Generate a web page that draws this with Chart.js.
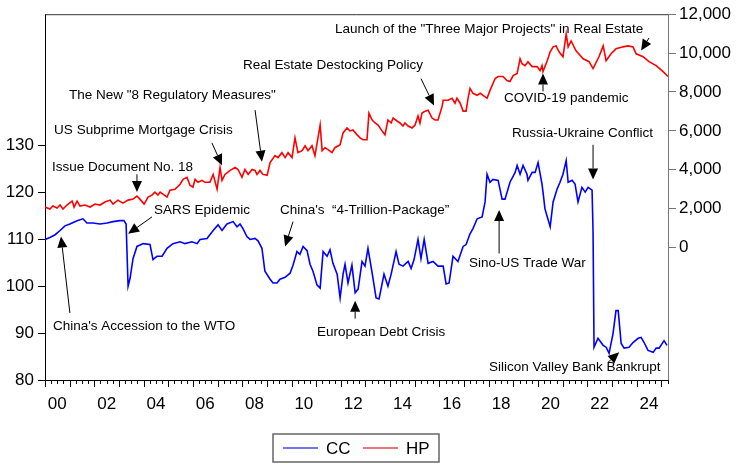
<!DOCTYPE html>
<html><head><meta charset="utf-8">
<script src="https://cdn.jsdelivr.net/npm/chart.js@4/dist/chart.umd.min.js"></script>
<style>html,body{margin:0;padding:0;background:#fff}#wrap{width:736px;height:467px}</style>
</head><body><div id="wrap"><canvas id="c" width="736" height="467"></canvas></div>
<script>
// ---- data ----
const ccDates = [2000.00,2000.20,2000.41,2000.61,2000.81,2001.01,2001.30,2001.54,2001.70,2001.95,
2002.23,2002.52,2002.76,2003.04,2003.20,2003.29,2003.37,2003.45,2003.57,2003.73,
2003.98,2004.26,2004.38,2004.54,2004.75,2004.95,2005.19,2005.48,2005.68,2005.96,
2006.17,2006.29,2006.57,2006.69,2006.82,2007.02,2007.18,2007.38,2007.63,2007.79,
2007.91,2008.03,2008.19,2008.32,2008.52,2008.64,2008.80,2008.92,2009.13,2009.25,
2009.41,2009.53,2009.74,2009.94,2010.06,2010.22,2010.34,2010.47,2010.63,2010.75,
2010.87,2011.03,2011.16,2011.28,2011.44,2011.56,2011.68,2011.85,2011.97,2012.09,
2012.17,2012.29,2012.45,2012.58,2012.70,2012.86,2012.98,2013.10,2013.27,2013.43,
2013.55,2013.75,2013.91,2014.04,2014.24,2014.36,2014.52,2014.73,2014.85,2014.97,
2015.13,2015.25,2015.38,2015.54,2015.74,2015.94,2016.15,2016.27,2016.39,2016.55,
2016.75,2016.96,2017.08,2017.24,2017.36,2017.53,2017.73,2017.85,2017.93,2018.05,
2018.17,2018.38,2018.54,2018.66,2018.86,2019.07,2019.15,2019.27,2019.39,2019.55,
2019.59,2019.76,2019.88,2020.00,2020.16,2020.20,2020.28,2020.49,2020.61,2020.77,
2020.89,2021.01,2021.14,2021.22,2021.38,2021.50,2021.62,2021.78,2021.91,2022.03,
2022.19,2022.23,2022.27,2022.43,2022.64,2022.76,2022.88,2023.04,2023.16,2023.25,
2023.37,2023.49,2023.69,2023.85,2024.06,2024.18,2024.30,2024.46,2024.67,2024.79,
2024.91,2025.11,2025.23];
const ccValues = [110.0,110.4,111.0,111.9,112.9,113.3,114.0,114.4,113.5,113.5,
113.3,113.5,113.8,114.0,114.0,113.3,100.0,101.7,105.9,108.5,
109.1,108.9,105.7,106.4,106.4,108.1,109.1,109.5,109.1,109.5,
109.1,110.0,110.2,111.0,111.9,113.1,111.9,113.3,113.8,112.7,
113.3,112.3,110.6,110.0,110.2,109.7,108.1,103.2,101.5,100.7,
100.7,101.5,101.9,102.8,104.5,107.4,106.8,108.5,107.6,104.7,
103.2,100.3,99.6,107.4,106.4,107.8,104.9,102.6,97.5,102.6,
104.7,100.7,104.5,98.6,99.4,105.3,104.3,108.1,102.8,97.5,
97.3,102.6,100.0,102.6,107.4,104.7,104.3,105.3,103.8,105.7,
110.0,105.9,110.0,104.9,105.3,104.3,104.3,100.5,100.7,106.4,
105.3,108.5,108.9,111.2,112.3,114.4,114.8,118.0,123.9,122.2,
122.8,122.6,118.6,118.6,122.2,124.3,125.8,123.9,125.8,123.9,
122.6,124.3,124.3,126.4,121.8,120.1,116.5,112.7,118.0,120.7,
122.2,123.9,126.8,122.2,122.6,121.8,118.0,121.1,120.1,121.1,
120.5,111.6,87.0,88.9,87.4,87.0,85.7,89.9,94.8,94.8,
87.8,86.8,87.0,88.0,88.9,89.1,88.0,86.3,85.9,86.8,
86.8,88.4,87.4];
const hpDates = [2000.00,2000.20,2000.32,2000.49,2000.61,2000.73,2000.89,2001.10,2001.18,2001.30,
2001.42,2001.62,2001.83,2002.03,2002.23,2002.43,2002.64,2002.76,2002.96,2003.16,
2003.37,2003.57,2003.73,2003.85,2004.02,2004.18,2004.34,2004.46,2004.58,2004.67,
2004.95,2005.07,2005.27,2005.48,2005.60,2005.76,2005.88,2006.00,2006.09,2006.21,
2006.37,2006.49,2006.69,2006.82,2006.98,2007.10,2007.18,2007.30,2007.51,2007.71,
2007.83,2007.99,2008.11,2008.24,2008.40,2008.52,2008.60,2008.72,2008.84,2009.01,
2009.13,2009.33,2009.45,2009.61,2009.74,2009.86,2010.02,2010.14,2010.26,2010.43,
2010.55,2010.67,2010.83,2010.95,2011.16,2011.24,2011.36,2011.48,2011.64,2011.76,
2011.97,2012.09,2012.25,2012.37,2012.49,2012.66,2012.78,2012.90,2013.06,2013.14,
2013.27,2013.39,2013.51,2013.67,2013.79,2013.91,2014.04,2014.12,2014.28,2014.40,
2014.52,2014.60,2014.73,2014.89,2015.01,2015.13,2015.21,2015.29,2015.42,2015.54,
2015.70,2015.82,2015.94,2016.11,2016.15,2016.35,2016.51,2016.63,2016.71,2016.84,
2016.96,2017.08,2017.16,2017.24,2017.36,2017.53,2017.65,2017.77,2017.93,2018.05,
2018.26,2018.38,2018.58,2018.74,2018.86,2018.99,2019.15,2019.27,2019.35,2019.47,
2019.59,2019.76,2019.96,2020.08,2020.16,2020.20,2020.37,2020.49,2020.61,2020.73,
2020.85,2021.01,2021.14,2021.22,2021.34,2021.54,2021.83,2022.07,2022.23,2022.47,
2022.64,2022.76,2022.96,2023.16,2023.45,2023.65,2023.85,2023.98,2024.26,2024.50,
2024.79,2025.07,2025.27];
const hpValues = [2084,1983,2135,2034,2186,1983,2186,2389,2084,2389,
2135,2186,2084,2237,2186,2339,2440,2237,2440,2288,
2440,2491,2644,2491,2237,2593,2695,2847,2695,2847,
2593,2949,3000,3254,3508,3610,3203,3101,3508,3355,
3457,3355,3355,3762,3000,4118,3457,3762,3966,4118,
4016,3610,4016,3762,4016,3966,3762,3966,3762,3711,
4372,4728,4626,4881,4626,4881,4626,5643,4881,4982,
5237,4982,5237,4728,6304,4982,5135,5033,4881,5135,
5287,5897,6152,5999,6050,5796,5643,5542,5542,6914,
6558,6406,6304,5999,5796,6558,6406,6660,6508,6406,
6253,6406,6253,6152,6304,6762,6406,6914,7016,7067,
6660,6558,6558,7270,7575,7575,7677,7423,7677,7423,
7016,7016,7677,8185,7931,7829,7931,7829,7677,8084,
8694,8795,8795,8592,8541,8846,8948,9710,9456,9355,
9558,9304,9304,9100,9355,9050,9609,10066,10321,10371,
10066,9812,10981,10321,10626,10117,9710,9558,9202,9812,
10371,9609,9964,10219,10321,10371,10321,9964,9812,9558,
9355,9050,8795];
const leftTicks = [80,90,100,110,120,130];
const rightTicks = [0,2000,4000,6000,8000,10000,12000];
const yearLabels = ['00','02','04','06','08','10','12','14','16','18','20','22','24'];
const seriesNames = ['CC','HP'];

// annotation texts, anchored in data coordinates (year, left-axis value)
const notes = [
 {text:'Launch of the "Three Major Projects" in Real Estate', at:[2011.76,154.9], from:[2024.50,153.0], to:[2024.18,150.3]},
 {text:'Real Estate Destocking Policy', at:[2008.03,147.1], from:[2015.25,144.3], to:[2015.78,138.6]},
 {text:'The New "8 Regulatory Measures"', at:[2000.97,140.8], from:[2008.52,137.6], to:[2008.80,126.6]},
 {text:'US Subprime Mortgage Crisis', at:[2000.37,133.2], from:[2006.77,130.6], to:[2007.18,125.8]},
 {text:'Issue Document No. 18', at:[2000.28,125.4], from:[2003.73,123.9], to:[2003.73,120.1]},
 {text:'SARS Epidemic', at:[2004.42,116.3], from:[2004.34,114.8], to:[2003.37,111.2]},
 {text:'China\'s  \u201C4-Trillion-Package\u201D', at:[2009.53,116.3], from:[2010.06,113.8], to:[2009.74,108.5]},
 {text:'China\'s Accession to the WTO', at:[2000.32,91.4], from:[2001.01,94.3], to:[2000.65,110.6]},
 {text:'European Debt Crisis', at:[2011.03,90.1], from:[2012.58,93.1], to:[2012.58,96.9]},
 {text:'Sino-US Trade War', at:[2017.20,104.9], from:[2018.42,107.0], to:[2018.42,116.3]},
 {text:'Russia-Ukraine Conflict', at:[2018.94,132.7], from:[2022.23,130.2], to:[2022.23,122.8]},
 {text:'COVID-19 pandemic', at:[2018.62,140.1], from:[2020.20,141.6], to:[2020.20,145.4]},
 {text:'Silicon Valley Bank Bankrupt', at:[2018.01,82.7], from:[2022.84,83.8], to:[2023.29,85.9]}
];

const FONT = '"Liberation Sans", Arial, sans-serif';
const BLUE = '#0000ff', RED = '#ff0000';

const framePlugin = {
  id:'frame',
  afterDraw(chart){
    const {ctx, chartArea:a, scales:{x}} = chart;
    ctx.save();
    ctx.strokeStyle = '#333'; ctx.lineWidth = 1;
    ctx.beginPath(); ctx.moveTo(a.left, a.top+0.5); ctx.lineTo(a.right, a.top+0.5); ctx.stroke();
    ctx.strokeStyle = '#000';
    const nq = Math.floor((x.max - 2000) * 4 + 1e-6);
    for (let q = 0; q <= nq; q++) {
      const px = Math.round(x.getPixelForValue(2000 + q/4)) + 0.5;
      const len = (q % 4 === 0) ? 7 : 4;
      ctx.beginPath(); ctx.moveTo(px, a.bottom); ctx.lineTo(px, a.bottom + len); ctx.stroke();
    }
    const y = chart.scales.y;
    ctx.fillStyle = '#000'; ctx.strokeStyle = '#000';
    ctx.font = '13.5px ' + FONT; ctx.textAlign = 'left'; ctx.textBaseline = 'middle';
    notes.forEach(n => {
      ctx.fillText(n.text, x.getPixelForValue(n.at[0]), y.getPixelForValue(n.at[1]));
      const x1 = x.getPixelForValue(n.from[0]), y1 = y.getPixelForValue(n.from[1]);
      const x2 = x.getPixelForValue(n.to[0]), y2 = y.getPixelForValue(n.to[1]);
      const ang = Math.atan2(y2 - y1, x2 - x1);
      const hl = 11, hw = 5;
      const bx = x2 - hl*Math.cos(ang), by = y2 - hl*Math.sin(ang);
      ctx.lineWidth = 1;
      ctx.beginPath(); ctx.moveTo(x1, y1); ctx.lineTo(bx, by); ctx.stroke();
      ctx.beginPath();
      ctx.moveTo(x2, y2);
      ctx.lineTo(bx + hw*Math.sin(ang), by - hw*Math.cos(ang));
      ctx.lineTo(bx - hw*Math.sin(ang), by + hw*Math.cos(ang));
      ctx.closePath(); ctx.fill();
    });
    const lx = 273, ly = 434, lw = 166, lh = 28;
    ctx.strokeStyle = '#666'; ctx.lineWidth = 1.5;
    ctx.strokeRect(lx, ly, lw, lh);
    ctx.font = '17px ' + FONT; ctx.textBaseline = 'middle';
    const items = [[seriesNames[0], '#4646e6', 283], [seriesNames[1], '#e04848', 363]];
    items.forEach(([name, col, sx]) => {
      ctx.strokeStyle = col; ctx.lineWidth = 1.5;
      ctx.beginPath(); ctx.moveTo(sx, ly + lh/2); ctx.lineTo(sx + 35, ly + lh/2); ctx.stroke();
      ctx.fillStyle = '#000'; ctx.fillText(name, sx + 43, ly + lh/2 + 1);
    });
    ctx.restore();
  }
};

new Chart(document.getElementById('c'), {
  type: 'line',
  data: {
    datasets: [
      {label: seriesNames[0], data: ccDates.map((d,i)=>({x:d, y:ccValues[i]})), borderColor: BLUE, borderWidth: 1.6, pointRadius: 0, yAxisID: 'y', tension: 0},
      {label: seriesNames[1], data: hpDates.map((d,i)=>({x:d, y:hpValues[i]})), borderColor: RED, borderWidth: 1.6, pointRadius: 0, yAxisID: 'y2', tension: 0}
    ]
  },
  options: {
    responsive: false, animation: false, devicePixelRatio: 1,
    layout: {padding: {top: 10, bottom: 57, left: 0, right: 0}},
    plugins: {legend: {display: false}, tooltip: {enabled: false}},
    scales: {
      x: {
        type: 'linear', min: 2000, max: 2025.27, position: 'bottom',
        afterBuildTicks: s => { s.ticks = yearLabels.map((l,i) => ({value: 2000 + 2*i + 0.5})); },
        afterFit: s => { s.height = 30; },
        ticks: {autoSkip: false, maxRotation: 0, padding: 6, color: '#000', font: {family: FONT, size: 17},
                callback: (v, i) => yearLabels[i]},
        grid: {display: false},
        border: {display: true, color: '#000', width: 1}
      },
      y: {
        position: 'left', min: 80, max: 158.06,
        afterBuildTicks: s => { s.ticks = leftTicks.map(v => ({value: v})); },
        afterFit: s => { s.width = 45; },
        ticks: {padding: 4, color: '#000', font: {family: FONT, size: 17}},
        grid: {display: true, drawOnChartArea: false, drawTicks: true, tickLength: 7, tickColor: '#000'},
        border: {display: true, color: '#000', width: 1}
      },
      y2: {
        position: 'right', min: -6810, max: 12000,
        afterBuildTicks: s => { s.ticks = rightTicks.map(v => ({value: v})); },
        afterFit: s => { s.width = 68; },
        ticks: {padding: 3, color: '#000', font: {family: FONT, size: 17},
                callback: v => v.toLocaleString('en-US')},
        grid: {display: true, drawOnChartArea: false, drawTicks: true, tickLength: 8, tickColor: '#777'},
        border: {display: true, color: '#777', width: 1}
      }
    }
  },
  plugins: [framePlugin]
});
</script></body></html>
